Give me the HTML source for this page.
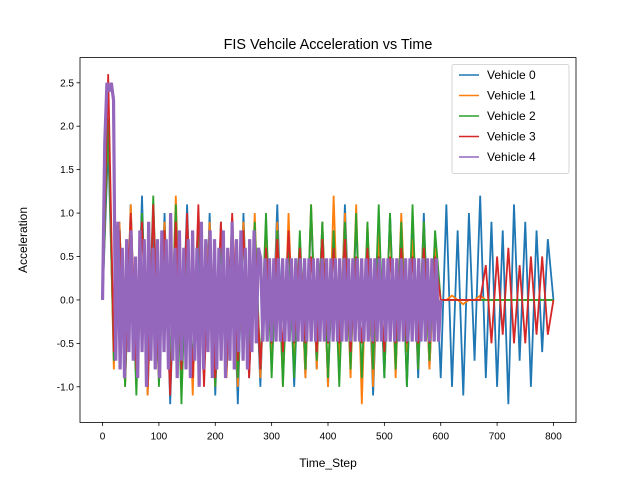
<!DOCTYPE html>
<html><head><meta charset="utf-8"><style>
body{margin:0;background:#fff}
svg{display:block;font-family:"Liberation Sans",sans-serif}
</style></head><body>
<svg id="chart" width="640" height="480">
<rect width="640" height="480" fill="#fff"/>
<g id="plot"></g>
<g id="axes"></g>
<text x="328" y="49" font-size="14.4" text-anchor="middle">FIS Vehcile Acceleration vs Time</text>
<text x="328" y="467" font-size="12" text-anchor="middle">Time_Step</text>
<text x="27" y="240" font-size="12" text-anchor="middle" transform="rotate(-90 27 240)">Acceleration</text>
<g id="legend"></g>
</svg>
<script>
const seriesNames=["Vehicle 0","Vehicle 1","Vehicle 2","Vehicle 3","Vehicle 4"];
const colors=["#1f77b4","#ff7f0e","#2ca02c","#d62728","#9467bd"];
const xTicks=[0,100,200,300,400,500,600,700,800];
const yTicks=[-1.0,-0.5,0.0,0.5,1.0,1.5,2.0,2.5];
const seriesEnds=[800,800,800,800,600];
const v0=[0,1.8,-0.6,0.9,-0.9,1.1,-1.0,1.2,-1.1,0.8,-0.9,1.0,-1.2,0.9,-0.8,1.1,-1.0,0.7,-0.9,1.0,-1.1,0.9,-0.8,0.8,-1.2,1.0,-0.9,0.7,-1.0,0.9,-0.8,1.1,-0.9,0.8,-1.0,0.7,-0.9,1.0,-0.8,0.9,-1.0,0.8,-0.9,1.1,-0.7,0.9,-1.0,0.8,-1.1,0.7,-0.9,1.0,-0.8,0.9,-1.0,0.8,-0.9,1.0,-0.8,0.7,-0.9,1.1,-1.0,0.8,-1.1,1.0,-0.7,1.2,-0.9,0.9,-1.0,0.8,-1.2,1.1,-0.7,0.9,-1.0,0.8,-0.6,0.7,0];
const v1=[0,2.1,-0.8,0.9,-1.0,1.1,-0.9,1.0,-1.1,1.1,-0.8,0.9,-1.0,1.2,-0.9,0.8,-1.1,1.0,-0.7,0.9,-1.0,0.8,-0.9,0.7,-1.0,0.9,-0.8,1.0,-0.9,0.8,-0.7,0.9,-1.0,1.0,-0.8,0.7,-0.9,1.1,-0.8,0.9,-1.0,1.2,-0.8,1.0,-0.9,1.1,-1.2,0.9,-1.0,0.8,-0.7,0.9,-0.9,1.0,-0.6,0.7,-0.8,0.9,-0.8,0.6,0,0,0.05,0,-0.05,0,0,0.05,0,0,0,0,0,0,0,0,0,0,0,0,0];
const v2=[0,2.1,-0.7,0.8,-1.0,0.9,-1.1,1.0,-0.9,1.2,-1.0,0.8,-0.9,1.1,-1.2,0.9,-0.8,1.0,-0.9,0.8,-1.0,0.7,-0.8,0.9,-0.9,0.8,-0.7,0.9,-0.8,1.0,-0.9,0.8,-1.0,0.7,-0.9,0.8,-0.8,1.1,-0.7,0.9,-0.9,0.8,-1.0,0.9,-0.8,1.0,-0.9,0.9,-0.8,1.1,-0.9,1.0,-0.8,0.9,-1.0,1.1,-0.8,0.9,-0.7,0.8,0,0,0,0,0,0,0,0,0,0,0,0,0,0,0,0,0,0,0,0,0];
const v3=[0,2.6,-0.6,0.8,-0.9,1.0,-0.8,0.9,-1.0,1.1,-0.9,0.8,-1.1,0.9,-0.8,1.0,-0.9,1.1,-1.0,0.8,-0.9,0.9,-0.8,1.0,-0.7,0.8,-0.9,0.7,-0.8,0.6,-0.5,0.7,-0.6,0.8,-0.5,0.6,-0.5,0.5,-0.6,0.7,-0.5,0.6,-0.5,0.7,-0.6,0.5,-0.5,0.6,-0.5,0.5,-0.6,0.5,-0.5,0.6,-0.5,0.5,-0.5,0.6,-0.5,0.5,0,0,0,0,0,0,0,0,0.4,-0.5,0.5,-0.4,0.6,-0.5,0.4,-0.5,0.5,-0.4,0.5,-0.4,0];
const v4=[0,1.8,2.5,2.4,2.5,2.3,-0.7,0.9,-0.8,0.6,-0.9,0.7,-0.6,0.8,-0.7,0.5,-0.9,0.8,-0.6,0.7,-1.0,0.9,-0.7,0.6,-0.8,0.7,-0.9,0.8,-0.6,0.7,-0.8,1.0,-0.7,0.6,-0.9,0.8,-0.7,0.6,-0.8,0.7,-0.9,0.8,-0.7,0.6,-1.0,0.9,-0.8,0.7,-0.6,0.8,-0.9,0.7,-0.8,0.6,-0.7,0.8,-0.9,0.6,-0.7,0.9,-0.8,0.7,-0.6,0.8,-0.7,0.6,-0.8,0.7,-0.6,0.8,-0.5,0.6,0.48,-0.48,0.48,-0.48,0.48,-0.48,0.48,-0.48,0.48,-0.48,0.48,-0.48,0.48,-0.48,0.48,-0.48,0.48,-0.48,0.48,-0.48,0.48,-0.48,0.48,-0.48,0.48,-0.48,0.48,-0.48,0.48,-0.48,0.48,-0.48,0.48,-0.48,0.48,-0.48,0.48,-0.48,0.48,-0.48,0.48,-0.48,0.48,-0.48,0.48,-0.48,0.48,-0.48,0.48,-0.48,0.48,-0.48,0.48,-0.48,0.48,-0.48,0.48,-0.48,0.48,-0.48,0.48,-0.48,0.48,-0.48,0.48,-0.48,0.48,-0.48,0.48,-0.48,0.48,-0.48,0.48,-0.48,0.48,-0.48,0.48,-0.48,0.48,-0.48,0.48,-0.48,0];
const seriesValues=[v0,v1,v2,v3,v4];
const seriesWidths=[1.8,1.8,1.8,1.8,3.2];

const L=80,R=576,T=57.6,B=422.4;
const xMin=-40,xMax=840,yMin=-1.41,yMax=2.79;
const xs=v=>L+(v-xMin)/(xMax-xMin)*(R-L);
const ys=v=>B-(v-yMin)/(yMax-yMin)*(B-T);
const NS="http://www.w3.org/2000/svg";
const plot=document.getElementById('plot'),axes=document.getElementById('axes'),legend=document.getElementById('legend');
function mk(tag,attrs,parent){const e=document.createElementNS(NS,tag);for(const k in attrs)e.setAttribute(k,attrs[k]);parent.appendChild(e);return e;}

seriesValues.forEach((vals,s)=>{
  const step=seriesEnds[s]/(vals.length-1);
  const pts=vals.map((v,i)=>xs(i*step).toFixed(2)+','+ys(v).toFixed(2)).join(' ');
  const pl=mk('polyline',{points:pts,fill:'none',stroke:colors[s],'stroke-width':seriesWidths[s],'stroke-linejoin':'miter','stroke-miterlimit':2},plot);
  
  
});

const frame=mk('rect',{x:L,y:T,width:R-L,height:B-T,fill:'none',stroke:'#000','stroke-width':0.8},axes);


xTicks.forEach(t=>{
  const x=xs(t);
  mk('line',{x1:x,x2:x,y1:B,y2:B+3.5,stroke:'#000','stroke-width':0.8},axes);
  const tx=mk('text',{x:x,y:B+17,'font-size':10,'text-anchor':'middle'},axes);
  tx.textContent=t;
  
  
});
yTicks.forEach(t=>{
  const y=ys(t);
  mk('line',{x1:L-3.5,x2:L,y1:y,y2:y,stroke:'#000','stroke-width':0.8},axes);
  const tx=mk('text',{x:L-6,y:y+3.5,'font-size':10,'text-anchor':'end'},axes);
  tx.textContent=t.toFixed(1);
  
  
});

const lb=mk('rect',{x:452,y:64.5,width:117,height:109,rx:2,fill:'#fff','fill-opacity':0.8,stroke:'#ccc','stroke-width':0.8},legend);


seriesNames.forEach((n,s)=>{
  const y=75+s*20.5;
  const g=mk('g',{},legend);
  
  
  mk('line',{x1:459,x2:479,y1:y,y2:y,stroke:colors[s],'stroke-width':1.5},g);
  const t=mk('text',{x:487,y:y+4,'font-size':12},g);
  t.textContent=n;
});
</script>
</body></html>
